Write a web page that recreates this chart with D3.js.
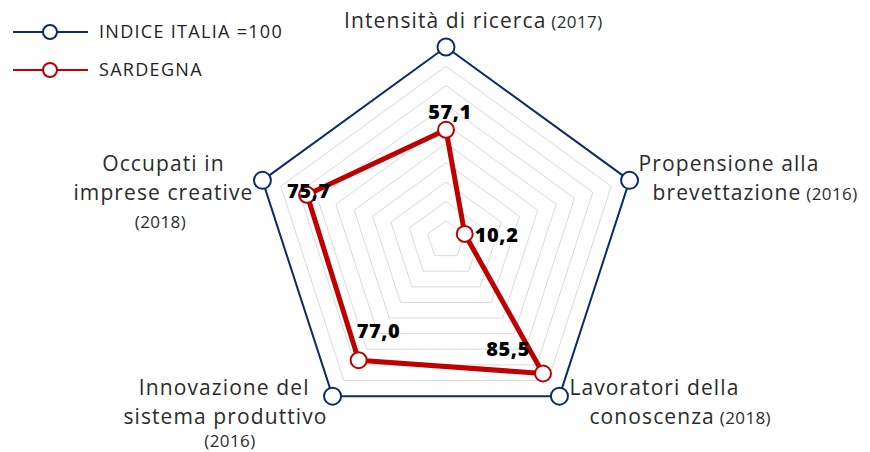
<!DOCTYPE html>
<html>
<head>
<meta charset="utf-8">
<script src="https://cdn.jsdelivr.net/npm/d3@7"></script>
<style>
  body{margin:0;background:#fff;}
  text{font-family:"Open Sans",sans-serif;}
</style>
</head>
<body>
<script>
// assi (in senso orario partendo dall'alto)
var axes=["Intensità di ricerca","Propensione alla brevettazione","Lavoratori della conoscenza","Innovazione del sistema produttivo","Occupati in imprese creative"];
var italia=[100,100,100,100,100];
var sardegna=[57.1,10.2,85.5,77.0,75.7];
var gridLevels=[10,20,30,40,50,60,70,80,90];

var width=870,height=452;
var cx=446,cy=240,R=193;
var navy="#0e2a6a",red="#c00000";

var svg=d3.select("body").append("svg").attr("width",width).attr("height",height);

var r=d3.scaleLinear().domain([0,100]).range([0,R]);
var ang=d3.scalePoint().domain(d3.range(axes.length+1)).range([0,2*Math.PI]);

function pt(i,v){
    var a=ang(i);
    return [cx+Math.sin(a)*r(v),cy-Math.cos(a)*r(v)];
}

var g=svg.append("g");

// griglia
g.selectAll("path.grid")
    .data(gridLevels)
    .join("path")
    .attr("class","grid")
    .attr("d",lv=>d3.line()(axes.map((a,i)=>pt(i,lv)))+"Z")
    .attr("fill","none")
    .attr("stroke","#dadada")
    .attr("stroke-width",1);

// serie
var series=[{name:"INDICE ITALIA =100",vals:italia,color:navy,w:2,mr:8.5},
            {name:"SARDEGNA",vals:sardegna,color:red,w:5,mr:8}];

series.forEach(function(s){
    g.append("path")
        .attr("d",d3.line()(s.vals.map((v,i)=>pt(i,v)))+"Z")
        .attr("fill","none")
        .attr("stroke",s.color)
        .attr("stroke-width",s.w)
        .attr("stroke-linejoin","round");
});
series.forEach(function(s){
    g.selectAll(null)
        .data(s.vals)
        .join("circle")
        .attr("cx",(v,i)=>pt(i,v)[0])
        .attr("cy",(v,i)=>pt(i,v)[1])
        .attr("r",s.mr)
        .attr("fill","#fff")
        .attr("stroke",s.color)
        .attr("stroke-width",2);
});

// etichette valori
var valOff=[[4,-11,"middle"],[10,8,"start"],[-13,-17,"end"],[-2,-22,"start"],[-20,3,"start"]];
g.selectAll("text.val")
    .data(sardegna)
    .join("text")
    .attr("class","val")
    .attr("x",(v,i)=>pt(i,v)[0]+valOff[i][0])
    .attr("y",(v,i)=>pt(i,v)[1]+valOff[i][1])
    .attr("text-anchor",(v,i)=>valOff[i][2])
    .attr("font-size",20)
    .attr("font-weight",800)
    .attr("letter-spacing",0.6)
    .attr("fill","#000")
    .text(v=>d3.format(".1f")(v).replace(".",","));

// etichette assi: righe, anno
var labLines=[
    [["Intensità di ricerca"," (2017)"]],
    [["Propensione alla",""],["brevettazione"," (2016)"]],
    [["Lavoratori della",""],["conoscenza"," (2018)"]],
    [["Innovazione del",""],["sistema produttivo",""],["(2016)",""]],
    [["Occupati in",""],["imprese creative",""],["(2018)",""]]
];
var labPos=[
    {dx:-102,dy:-19,anchor:"start",ind:[0]},
    {dx:9,dy:-9,anchor:"start",ind:[0,14]},
    {dx:10,dy:-1,anchor:"start",ind:[0,20]},
    {dx:-23,dy:-1,anchor:"end",ind:[0,18,-54]},
    {dx:-99,dy:-9,anchor:"middle",ind:[0,0,-3]}
];
var lineH=28.5;
labLines.forEach(function(lines,i){
    var p=pt(i,100),lp=labPos[i];
    var t=g.append("text")
        .attr("text-anchor",lp.anchor)
        .attr("fill","#2b2b2b");
    lines.forEach(function(l,k){
        var yr=l[0].charAt(0)=="(";
        var ts=t.append("tspan")
            .attr("x",p[0]+lp.dx+lp.ind[k])
            .attr("y",p[1]+lp.dy+k*lineH+(i==3&&k==2?-5:0))
            .attr("font-size",yr?17:21)
            .attr("letter-spacing",yr?0.4:1.1)
            .text(l[0]);
        if(l[1]) t.append("tspan").attr("font-size",17).attr("letter-spacing",0.4).text(l[1]);
    });
});

// legenda
var leg=svg.append("g").selectAll("g")
    .data(series)
    .join("g")
    .attr("transform",(d,i)=>"translate(13,"+(32+i*38)+")");
leg.append("line").attr("x1",0).attr("x2",75).attr("stroke",d=>d.color).attr("stroke-width",2);
leg.append("circle").attr("cx",37).attr("r",7).attr("fill","#fff").attr("stroke",d=>d.color).attr("stroke-width",2);
leg.append("text").attr("x",86).attr("y",6).attr("font-size",18).attr("letter-spacing",1.3).attr("font-weight",500).attr("fill","#222").text(d=>d.name);
</script>
</body>
</html>
